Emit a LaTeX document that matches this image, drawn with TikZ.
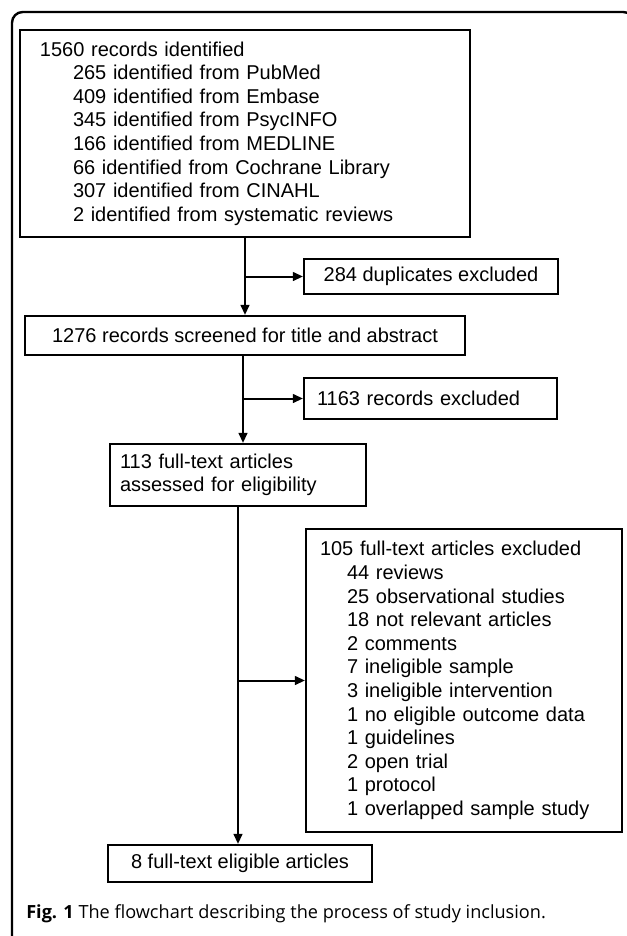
\documentclass[tikz,border=0pt]{standalone}
\usepackage{fontspec}
\setmainfont{Liberation Sans}
\newfontfamily\capfont{Open Sans}
\usetikzlibrary{arrows.meta}
\usetikzlibrary{calc}

\tikzset{
    flowbox/.style={draw, line width=1.6pt, inner ysep=0pt, font=\fontsize{15pt}{17.7pt}\selectfont},
    flowarrow/.style={line width=1.5pt, -{Triangle[length=7.5pt, width=6.5pt]}}
}

\begin{document}
\begin{tikzpicture}[x=0.75pt, y=-0.75pt]
    \useasboundingbox (0,0) rectangle (627,936);
    \fill[white] (0,0) rectangle (627,936);

    % Draw the outer frame
    \draw[line width=1.8pt, rounded corners=8pt] (12,12) rectangle (634,948);

    % Draw the main boxes
    \node[flowbox, align=left, inner xsep=15pt, text width=307.5pt, minimum height=155.25pt] (records) at (245,133.5)
        {1560 records identified\\
        \hspace*{24.75pt}265 identified from PubMed\\
        \hspace*{24.75pt}409 identified from Embase\\
        \hspace*{24.75pt}345 identified from PsycINFO\\
        \hspace*{24.75pt}166 identified from MEDLINE\\
        \hspace*{24.75pt}66 identified from Cochrane Library\\
        \hspace*{24.75pt}307 identified from CINAHL\\
        \hspace*{24.75pt}2 identified from systematic reviews};
    \node[flowbox, minimum width=330pt, minimum height=29.25pt] (screened) at (245,335.5)
        {1276 records screened for title and abstract};
    \node[flowbox, align=left, inner xsep=7.5pt, text width=177pt, minimum height=46.5pt] (fulltext) at (238,475)
        {113 full-text articles\\assessed for eligibility};
    \node[flowbox, minimum width=198pt, minimum height=27.75pt] (eligible) at (240,863.5)
        {8 full-text eligible articles};

    % Draw the exclusion boxes
    \node[flowbox, minimum width=190.5pt, minimum height=26.25pt] (duplicates) at (431,276.5)
        {284 duplicates excluded};
    \node[flowbox, align=left, inner xsep=9.75pt, text width=170.25pt, minimum height=30.75pt] (excluded) at (430.5,398.5)
        {1163 records excluded};
    \node[flowbox, align=left, inner xsep=10.5pt, text width=216pt, minimum height=227.25pt] (reasons) at (464,680.5)
        {105 full-text articles excluded\\
        \hspace*{20.25pt}44 reviews\\
        \hspace*{20.25pt}25 observational studies\\
        \hspace*{20.25pt}18 not relevant articles\\
        \hspace*{20.25pt}2 comments\\
        \hspace*{20.25pt}7 ineligible sample\\
        \hspace*{20.25pt}3 ineligible intervention\\
        \hspace*{20.25pt}1 no eligible outcome data\\
        \hspace*{20.25pt}1 guidelines\\
        \hspace*{20.25pt}2 open trial\\
        \hspace*{20.25pt}1 protocol\\
        \hspace*{20.25pt}1 overlapped sample study};

    % Draw the arrows down the flow
    \draw[flowarrow] (records.south) -- (screened.north);
    \draw[flowarrow] ($(screened.south)+(-2,0)$) -- ($(screened.south |- fulltext.north)+(-2,0)$);
    \draw[flowarrow] (fulltext.south) -- (fulltext.south |- eligible.north);

    % Draw the side arrows
    \draw[flowarrow] (records.south |- duplicates.west) -- (duplicates.west);
    \draw[flowarrow] ($(screened.south |- excluded.west)+(-2,0)$) -- (excluded.west);
    \draw[flowarrow] (fulltext.south |- reasons.west) -- (reasons.west);

    % Draw the caption
    \node[anchor=base west, inner sep=0pt, font=\capfont\fontsize{13.6pt}{16pt}\selectfont] (caption) at (26,918)
        {\textbf{Fig. 1} The flowchart describing the process of study inclusion.};
\end{tikzpicture}
\end{document}
